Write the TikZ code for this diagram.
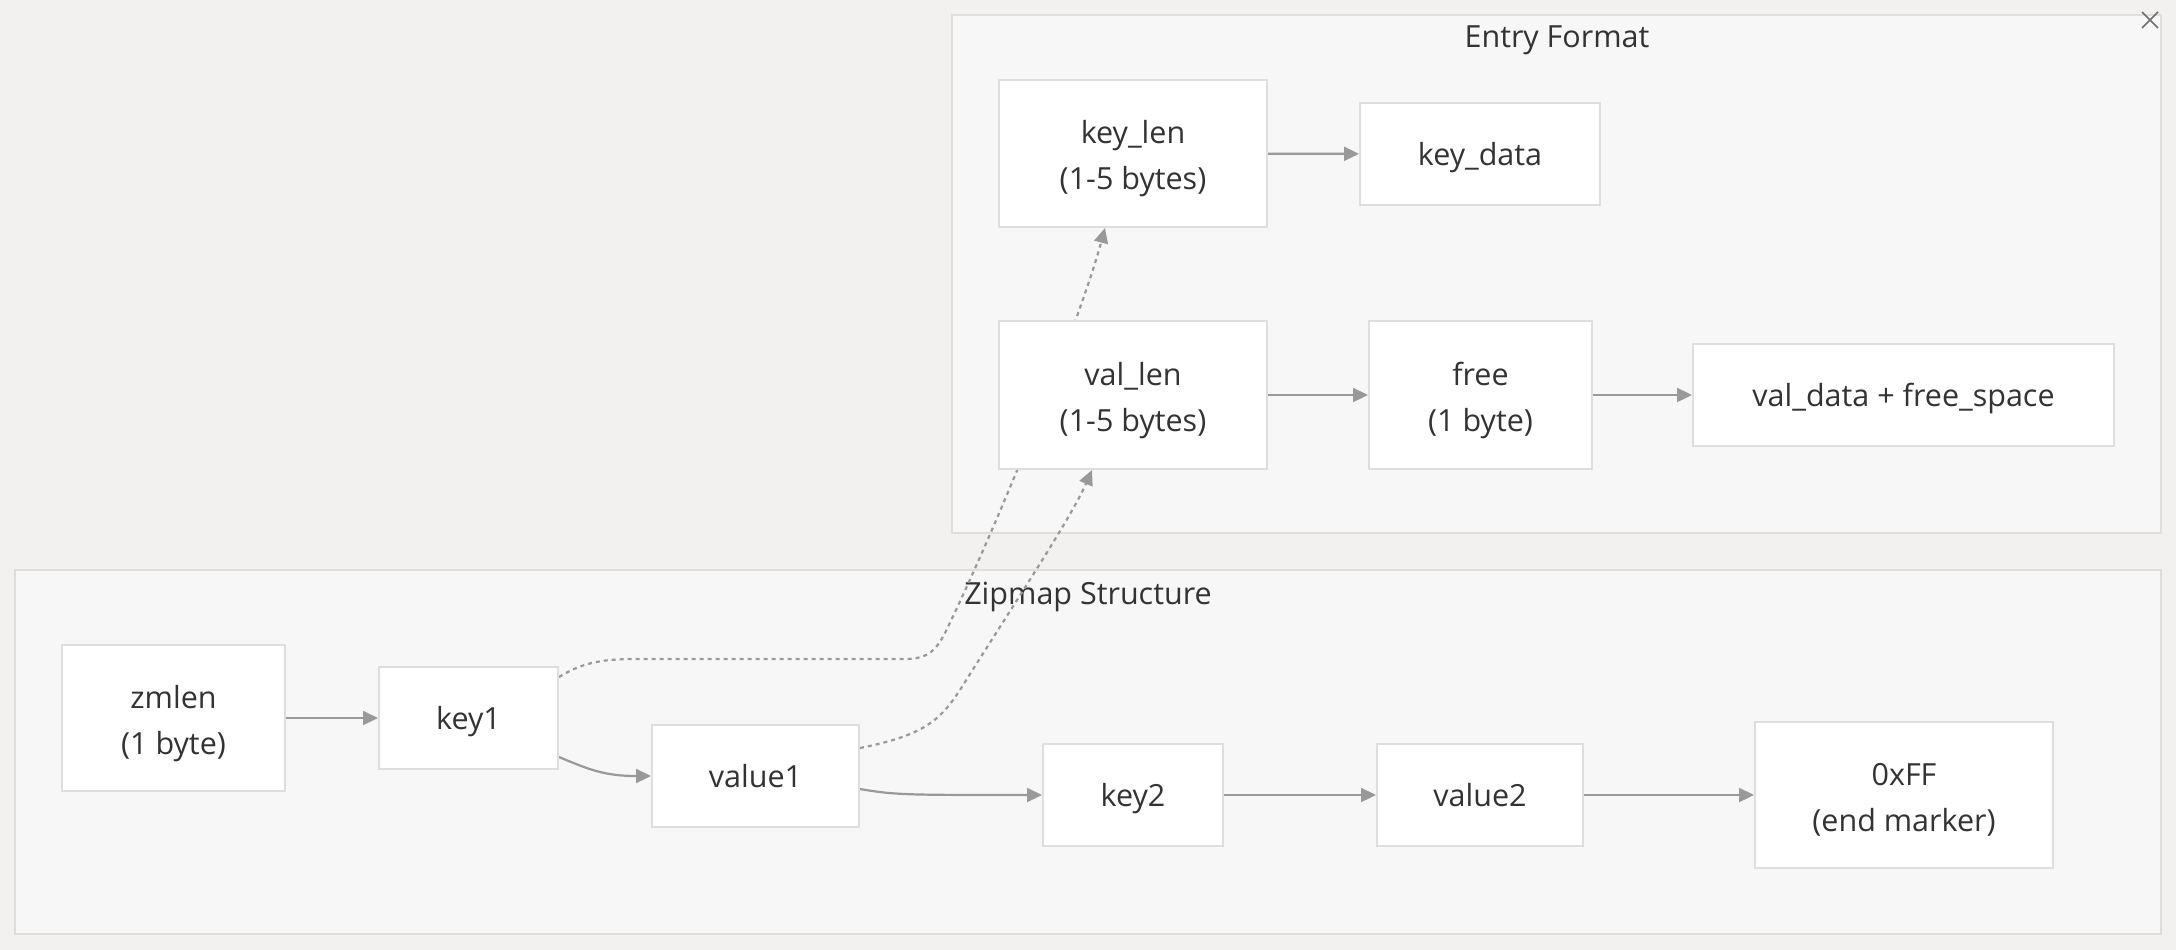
\documentclass[tikz,border=0pt]{standalone}
\usepackage{fontspec}
\setmainfont{Open Sans}
\usetikzlibrary{arrows.meta}
\definecolor{pagebg}{RGB}{242,241,239}
\definecolor{clfill}{RGB}{247,247,247}
\definecolor{clline}{RGB}{222,222,222}
\definecolor{ndline}{RGB}{222,222,222}
\definecolor{edgecol}{RGB}{153,153,153}
\definecolor{txt}{RGB}{51,51,51}
\definecolor{xcol}{RGB}{110,110,110}
\newcommand{\topstrut}{\rule{0pt}{34pt}}
\pgfdeclarelayer{pagelayer}
\pgfdeclarelayer{clusters}
\pgfdeclarelayer{edges}
\pgfsetlayers{pagelayer,clusters,edges,main}
\begin{document}
\begin{tikzpicture}[x=1pt,y=-1pt,
  box/.style={draw=ndline, line width=2pt, fill=white, inner sep=0pt, text=txt, align=center,
    font=\fontsize{30.5}{46}\selectfont,
    execute at begin node={\rule{0pt}{31pt}},
    execute at end node={\rule[-8pt]{0pt}{8pt}}},
  cluster/.style={draw=clline, line width=2pt, fill=clfill},
  ctitle/.style={text=txt, font=\fontsize{30.5}{36}\selectfont, inner sep=0pt, anchor=base},
  edge/.style={draw=edgecol, line width=2.2pt, -{Triangle[length=15pt,width=14pt]}},
  dashedge/.style={edge, dash pattern=on 4pt off 4pt},
]
\begin{pgfonlayer}{pagelayer}
\fill[pagebg] (0,0) rectangle (2176,950);
\end{pgfonlayer}
\useasboundingbox (0,0) rectangle (2176,950);

\begin{pgfonlayer}{clusters}
\draw[cluster] (952,15) rectangle (2161,533);
\node[ctitle] (entrytitle) at (1557,48) {Entry Format};
\draw[cluster] (15,570) rectangle (2161,934);
\node[ctitle] (ziptitle) at (1088,604) {Zipmap Structure};
\end{pgfonlayer}
\draw[xcol, line width=1.6pt] (2142,12) -- (2158,28) (2142,28) -- (2158,12);

% Entry Format nodes
\node[box, minimum width=268pt, minimum height=147pt] (keylen) at (1133,153.5) {\topstrut key\_len\\(1-5 bytes)};
\node[box, minimum width=240pt, minimum height=102pt] (keydata) at (1480,154) {key\_data};
\node[box, minimum width=268pt, minimum height=148pt] (vallen) at (1133,395) {\topstrut val\_len\\(1-5 bytes)};
\node[box, minimum width=223pt, minimum height=148pt] (free) at (1480.5,395) {\topstrut free\\(1 byte)};
\node[box, minimum width=421pt, minimum height=102pt] (valdata) at (1903.5,395) {val\_data + free\_space};

% Zipmap nodes
\node[box, minimum width=223pt, minimum height=146pt] (zmlen) at (173.5,718) {\topstrut zmlen\\(1 byte)};
\node[box, minimum width=179pt, minimum height=102pt] (key1) at (468.5,718) {key1};
\node[box, minimum width=207pt, minimum height=102pt] (value1) at (755.5,776) {value1};
\node[box, minimum width=180pt, minimum height=102pt] (key2) at (1133,795) {key2};
\node[box, minimum width=206pt, minimum height=102pt] (value2) at (1480,795) {value2};
\node[box, minimum width=298pt, minimum height=146pt] (endm) at (1904,795) {\topstrut 0xFF\\(end marker)};

\begin{pgfonlayer}{edges}
\draw[edge] (zmlen) -- (key1);
\draw[edge] ([yshift=-39pt]key1.east) .. controls (590,770) and (605,776) .. (value1.west);
\draw[edge] ([yshift=-13pt]value1.east) .. controls (895,795) and (905,795) .. (key2.west);
\draw[edge] (key2) -- (value2);
\draw[edge] (value2) -- (endm);
\draw[edge] (keylen) -- (keydata);
\draw[edge] (vallen) -- (free);
\draw[edge] (free) -- (valdata);
\draw[dashedge] ([yshift=-11pt]key1.north east) .. controls (585,661) and (605,659) .. (640,659) -- (905,659) .. controls (930,659) and (937,648) .. (945,633) .. controls (1000,520) and (1080,320) .. ([xshift=-28pt]keylen.south);
\draw[dashedge] ([yshift=-24pt]value1.north east) .. controls (925,735) and (940,720) .. (960,690) .. controls (1010,610) and (1070,520) .. ([xshift=-41pt]vallen.south);
\end{pgfonlayer}
\end{tikzpicture}
\end{document}
